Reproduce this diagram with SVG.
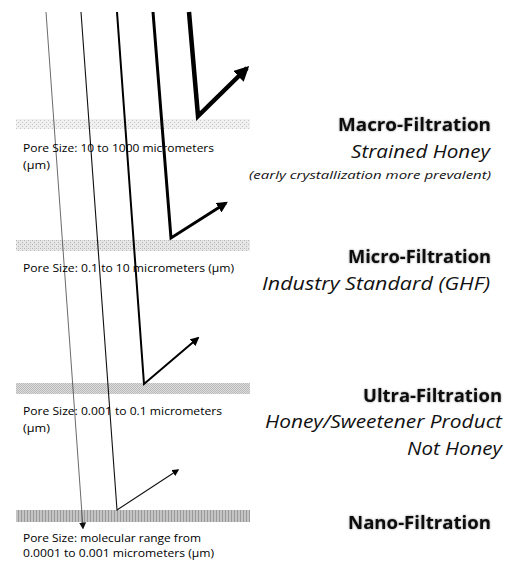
<svg xmlns="http://www.w3.org/2000/svg" width="518" height="562" viewBox="0 0 518 562">
<style>
.lbl{font-family:"Open Sans","Liberation Sans",Arial,sans-serif;font-size:11.5px;fill:#000}
.ttl{font-family:"Open Sans","Liberation Sans",Arial,sans-serif;font-size:17px;font-weight:bold;fill:#111;text-anchor:end;filter:url(#glow)}
.sub{font-family:"Open Sans","Liberation Sans",Arial,sans-serif;font-size:17.5px;font-style:italic;fill:#111;text-anchor:end}
.note{font-family:"Open Sans","Liberation Sans",Arial,sans-serif;font-size:11px;font-style:italic;fill:#111;text-anchor:end}
.ray{fill:none;stroke-linecap:butt;stroke-linejoin:miter}
</style>
<defs>
<filter id="glow" x="-5%" y="-20%" width="110%" height="140%">
<feGaussianBlur in="SourceAlpha" stdDeviation="1.2"/>
<feComponentTransfer><feFuncA type="linear" slope="0.45"/></feComponentTransfer>
<feMerge><feMergeNode/><feMergeNode in="SourceGraphic"/></feMerge>
</filter>
<pattern id="p1" width="4" height="4" patternUnits="userSpaceOnUse">
<rect width="4" height="4" fill="#f0f0f0"/><rect width="1" height="1" fill="#c8c8c8"/><rect x="2" y="2" width="1" height="1" fill="#c8c8c8"/>
</pattern>
<pattern id="p2" width="4" height="4" patternUnits="userSpaceOnUse">
<rect width="4" height="4" fill="#e6e6e6"/><rect width="1" height="1" fill="#b4b4b4"/><rect x="2" y="2" width="1" height="1" fill="#b4b4b4"/><rect x="2" y="0" width="1" height="1" fill="#cfcfcf"/>
</pattern>
<pattern id="p3" width="2" height="2" patternUnits="userSpaceOnUse">
<rect width="2" height="2" fill="#dedede"/><rect width="1" height="1" fill="#b8b8b8"/><rect x="1" y="1" width="1" height="1" fill="#b8b8b8"/>
</pattern>
<pattern id="p4" width="3" height="3" patternUnits="userSpaceOnUse">
<rect width="3" height="3" fill="#c4c4c4"/><rect width="1" height="3" fill="#9a9a9a"/>
</pattern>
<marker id="ah1" viewBox="0 0 10 10" refX="8" refY="5" markerWidth="7" markerHeight="7" markerUnits="userSpaceOnUse" orient="auto"><path d="M0,0 L10,5 L0,10 Z" fill="#111"/></marker>
<marker id="ah2" viewBox="0 0 10 10" refX="8" refY="5" markerWidth="7" markerHeight="7" markerUnits="userSpaceOnUse" orient="auto"><path d="M0,0 L10,5 L0,10 Z" fill="#000"/></marker>
<marker id="ah3" viewBox="0 0 10 10" refX="8" refY="5" markerWidth="9" markerHeight="9" markerUnits="userSpaceOnUse" orient="auto"><path d="M0,0 L10,5 L0,10 Z" fill="#000"/></marker>
<marker id="ah4" viewBox="0 0 10 10" refX="8" refY="5" markerWidth="11" markerHeight="11" markerUnits="userSpaceOnUse" orient="auto"><path d="M0,0 L10,5 L0,10 Z" fill="#000"/></marker>
<marker id="ah5" viewBox="0 0 10 10" refX="8" refY="5" markerWidth="15" markerHeight="15" markerUnits="userSpaceOnUse" orient="auto"><path d="M0,0 L10,5 L0,10 Z" fill="#000"/></marker>
</defs>

<g id="filters">
<g id="macro-band"><rect x="16" y="119" width="234" height="10" fill="url(#p1)"/></g>
<g id="micro-band"><rect x="16" y="240" width="234" height="11" fill="url(#p2)"/></g>
<g id="ultra-band"><rect x="16" y="383" width="234" height="11" fill="url(#p3)"/></g>
<g id="nano-band"><rect x="16" y="510" width="234" height="12" fill="url(#p4)"/></g>
</g>

<g id="connectors">
<path class="ray" d="M46,12 L83,528" stroke="#444" stroke-width="0.8" marker-end="url(#ah1)"/>
<path class="ray" d="M81,12 L117,510 L178,470" stroke="#111" stroke-width="1.1" marker-end="url(#ah2)"/>
<path class="ray" d="M117,12 L144,384 L198,338" stroke="#000" stroke-width="2" marker-end="url(#ah3)"/>
<path class="ray" d="M153,12 L171,238 L226,203" stroke="#000" stroke-width="3" marker-end="url(#ah4)"/>
<path class="ray" d="M189,12 L198,116 L247,68" stroke="#000" stroke-width="4.5" marker-end="url(#ah5)"/>
</g>

<g id="macro">
<text class="lbl" x="23" y="152" textLength="191" lengthAdjust="spacingAndGlyphs">Pore Size: 10 to 1000 micrometers</text>
<text class="lbl" x="23" y="169" textLength="27" lengthAdjust="spacingAndGlyphs">(µm)</text>
<text class="ttl" x="491" y="131" textLength="153" lengthAdjust="spacingAndGlyphs">Macro-Filtration</text>
<text class="sub" x="490" y="158" textLength="139" lengthAdjust="spacingAndGlyphs">Strained Honey</text>
<text class="note" x="491" y="179" textLength="242" lengthAdjust="spacingAndGlyphs">(early crystallization more prevalent)</text>
</g>

<g id="micro">
<text class="lbl" x="23" y="272" textLength="211" lengthAdjust="spacingAndGlyphs">Pore Size: 0.1 to 10 micrometers (µm)</text>
<text class="ttl" x="491" y="263" textLength="143" lengthAdjust="spacingAndGlyphs">Micro-Filtration</text>
<text class="sub" x="490" y="290" textLength="228" lengthAdjust="spacingAndGlyphs">Industry Standard (GHF)</text>
</g>

<g id="ultra">
<text class="lbl" x="23" y="415" textLength="199" lengthAdjust="spacingAndGlyphs">Pore Size: 0.001 to 0.1 micrometers</text>
<text class="lbl" x="23" y="432" textLength="27" lengthAdjust="spacingAndGlyphs">(µm)</text>
<text class="ttl" x="502" y="402" textLength="139" lengthAdjust="spacingAndGlyphs">Ultra-Filtration</text>
<text class="sub" x="502" y="428" textLength="237" lengthAdjust="spacingAndGlyphs">Honey/Sweetener Product</text>
<text class="sub" x="502" y="455" textLength="95" lengthAdjust="spacingAndGlyphs">Not Honey</text>
</g>

<g id="nano">
<text class="lbl" x="23" y="542" textLength="178" lengthAdjust="spacingAndGlyphs">Pore Size: molecular range from</text>
<text class="lbl" x="23" y="557" textLength="191" lengthAdjust="spacingAndGlyphs">0.0001 to 0.001 micrometers (µm)</text>
<text class="ttl" x="491" y="529" textLength="143" lengthAdjust="spacingAndGlyphs">Nano-Filtration</text>
</g>
</svg>
